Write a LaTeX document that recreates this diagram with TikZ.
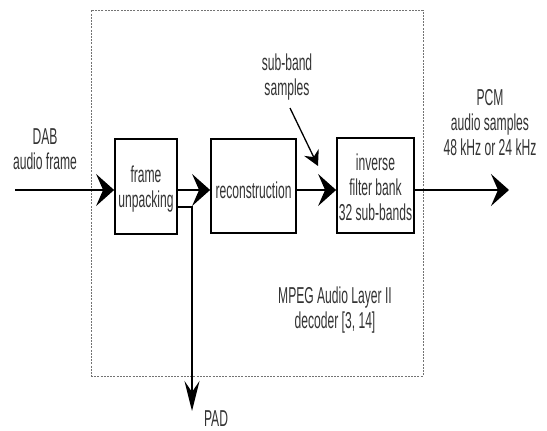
\documentclass[tikz,border=0pt]{standalone}
\usepackage{fontspec}
\setmainfont{Liberation Sans}
\usetikzlibrary{arrows.meta}
\begin{document}
\begin{tikzpicture}[x=1pt,y=-1pt,
  lbl/.style={font=\fontsize{12.1}{13.2}\selectfont, align=center, yscale=1.9, inner sep=0pt, text=black!80},
  blk/.style={draw, line width=1.8pt, inner sep=0pt},
  conn/.style={line width=1.6pt, -{Stealth[length=18pt,width=32pt,inset=7pt]}},
  connd/.style={line width=1.6pt, -{Stealth[length=30pt,width=15pt,inset=11pt]}},
  conns/.style={line width=1.3pt, -{Stealth[length=15pt,width=16pt,inset=5pt]}},
  frame/.style={draw=black!55, line width=0.6pt, dash pattern=on 2pt off 1.2pt}]
\useasboundingbox (0,0) rectangle (547,431);
\node[frame, minimum width=332pt, minimum height=366pt, inner sep=0pt] (mpeg) at (257,193) {};
\node[blk, minimum width=62pt, minimum height=95pt] (fu) at (146,186.5) {};
\node[blk, minimum width=85pt, minimum height=94pt] (rec) at (253.5,186) {};
\node[blk, minimum width=77pt, minimum height=95pt] (ifb) at (375.5,185.5) {};
\node[lbl] (fut) at (146,189.5) {frame\\unpacking};
\node[lbl] (rect) at (253.5,190) {reconstruction};
\node[lbl] (ifbt) at (375.5,187) {inverse\\filter bank\\32 sub-bands};
\node[lbl] (dab) at (45,149.5) {DAB\\audio frame};
\node[lbl] (sbs) at (287,77.5) {sub-band\\samples};
\node[lbl] (pcm) at (490,123) {PCM\\audio samples\\48 kHz or 24 kHz};
\node[lbl] (mpegt) at (335,310) {MPEG Audio Layer II\\decoder [3, 14]};
\node[lbl] (pad) at (216,419) {PAD};
\coordinate (in) at (15,190);
\coordinate (out) at (509,190);
\coordinate (padend) at (192,411);
\coordinate (sbsa) at (290,108);
\coordinate (sbsb) at (318,166);
\draw[conn] (in) -- (in -| fu.west);
\draw[conn] (fu.east |- in) -- (rec.west |- in);
\draw[conn] (rec.east |- in) -- (ifb.west |- in);
\draw[conn] (ifb.east |- in) -- (out);
\draw[connd] (fu.east |- 0,207) -| (padend);
\draw[conns] (sbsa) -- (sbsb);
\end{tikzpicture}
\end{document}
